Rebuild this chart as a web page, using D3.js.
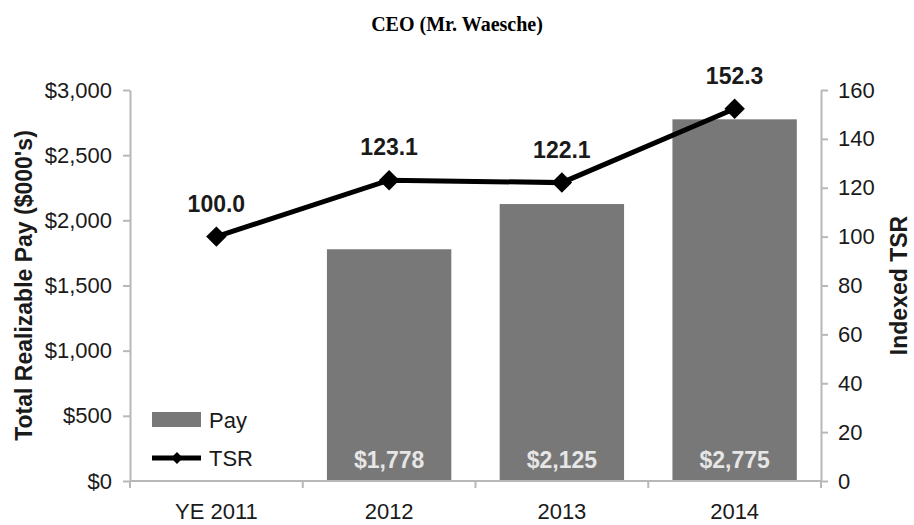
<!DOCTYPE html>
<html>
<head>
<meta charset="utf-8">
<script src="https://cdn.jsdelivr.net/npm/d3@7"></script>
<style>
  body { margin: 0; background: #fff; }
  svg { display: block; font-family: "Liberation Sans", Arial, Helvetica, sans-serif; }
  .axis path, .axis line { stroke: #b8b8b8; stroke-width: 2; }
  .axis text { font-size: 22px; fill: #1a1a1a; }
  .title { font-family: "Liberation Serif", "Times New Roman", serif; font-weight: bold; font-size: 20px; }
  .axisTitle { font-weight: bold; font-size: 23px; fill: #1a1a1a; }
  .dataLabel { font-weight: bold; font-size: 23px; fill: #1a1a1a; }
  .barLabel { font-weight: bold; font-size: 23px; fill: #e6e6e6; }
  .legend { font-size: 22px; fill: #1a1a1a; }
</style>
</head>
<body>
<div id="chart"></div>
<script>
//Chart data
const categories = ["YE 2011", "2012", "2013", "2014"];
const payValues = [null, 1778, 2125, 2775];   //no pay bar for YE 2011
const tsrValues = [100.0, 123.1, 122.1, 152.3];
const payTicks = [0, 500, 1000, 1500, 2000, 2500, 3000];
const tsrTicks = [0, 20, 40, 60, 80, 100, 120, 140, 160];

const width = 914;
const height = 525;
const plotLeft = 130, plotRight = 821, plotTop = 90, plotBottom = 481;
const barColor = "#787878";

const svg = d3.select("#chart")
    .append("svg")
    .attr("width", width)
    .attr("height", height);

//Scales
const xScale = d3.scaleBand()
    .domain(categories)
    .range([plotLeft, plotRight])
    .padding(0);

const yPay = d3.scaleLinear()
    .domain([0, 3000])
    .range([plotBottom, plotTop]);

const yTsr = d3.scaleLinear()
    .domain([0, 160])
    .range([plotBottom, plotTop]);

const barWidth = xScale.bandwidth() * 0.72;
const center = c => xScale(c) + xScale.bandwidth() / 2;

//Title
svg.append("text")
    .attr("class", "title")
    .attr("x", width / 2)
    .attr("y", 31)
    .attr("text-anchor", "middle")
    .text("CEO (Mr. Waesche)");

//Bars
const barData = categories.map((c, i) => ({cat: c, value: payValues[i]})).filter(d => d.value != null);

svg.append("g")
    .selectAll("rect")
    .data(barData)
    .enter()
    .append("rect")
    .attr("x", d => center(d.cat) - barWidth / 2)
    .attr("y", d => yPay(d.value))
    .attr("width", barWidth)
    .attr("height", d => yPay(0) - yPay(d.value))
    .attr("fill", barColor);

//Bar value labels inside the bars
svg.append("g")
    .selectAll("text")
    .data(barData)
    .enter()
    .append("text")
    .attr("class", "barLabel")
    .attr("x", d => center(d.cat))
    .attr("y", plotBottom - 13)
    .attr("text-anchor", "middle")
    .text(d => "$" + d3.format(",")(d.value));

//Left axis
svg.append("g")
    .attr("class", "axis")
    .attr("transform", "translate(" + plotLeft + ",0)")
    .call(d3.axisLeft(yPay)
        .tickValues(payTicks)
        .tickSize(7)
        .tickSizeOuter(0)
        .tickPadding(11)
        .tickFormat(d => "$" + d3.format(",")(d)));

//Right axis
svg.append("g")
    .attr("class", "axis")
    .attr("transform", "translate(" + plotRight + ",0)")
    .call(d3.axisRight(yTsr)
        .tickValues(tsrTicks)
        .tickSize(7)
        .tickSizeOuter(0)
        .tickPadding(10));

//Bottom axis: labels at band centres, ticks at band edges
const xAxis = svg.append("g")
    .attr("class", "axis")
    .attr("transform", "translate(0," + plotBottom + ")")
    .call(d3.axisBottom(xScale).tickSize(0).tickPadding(22));
xAxis.select(".domain").remove();
xAxis.selectAll("text").attr("dy", "0.71em");

xAxis.append("line")
    .attr("x1", plotLeft)
    .attr("x2", plotRight)
    .attr("y1", 0)
    .attr("y2", 0);

xAxis.selectAll(".edge")
    .data(categories.concat(["end"]))
    .enter()
    .append("line")
    .attr("class", "edge")
    .attr("x1", (d, i) => plotLeft + i * xScale.bandwidth())
    .attr("x2", (d, i) => plotLeft + i * xScale.bandwidth())
    .attr("y1", 0)
    .attr("y2", 7);

//TSR line with diamond markers
const tsrData = categories.map((c, i) => ({cat: c, value: tsrValues[i]}));

const line = d3.line()
    .x(d => center(d.cat))
    .y(d => yTsr(d.value));

svg.append("path")
    .datum(tsrData)
    .attr("d", line)
    .attr("fill", "none")
    .attr("stroke", "#000")
    .attr("stroke-width", 5);

svg.append("g")
    .selectAll("path")
    .data(tsrData)
    .enter()
    .append("path")
    .attr("d", d3.symbol().type(d3.symbolSquare).size(210))
    .attr("transform", d => "translate(" + center(d.cat) + "," + yTsr(d.value) + ") rotate(45)")
    .attr("fill", "#000");

//TSR labels
svg.append("g")
    .selectAll("text")
    .data(tsrData)
    .enter()
    .append("text")
    .attr("class", "dataLabel")
    .attr("x", d => center(d.cat))
    .attr("y", d => yTsr(d.value) - 25)
    .attr("text-anchor", "middle")
    .text(d => d.value.toFixed(1));

//Axis titles
svg.append("text")
    .attr("class", "axisTitle")
    .attr("transform", "translate(32," + ((plotTop + plotBottom) / 2) + ") rotate(-90)")
    .attr("text-anchor", "middle")
    .text("Total Realizable Pay ($000's)");

svg.append("text")
    .attr("class", "axisTitle")
    .attr("transform", "translate(907," + ((plotTop + plotBottom) / 2) + ") rotate(-90)")
    .attr("text-anchor", "middle")
    .text("Indexed TSR");

//Legend
svg.append("rect")
    .attr("x", 152)
    .attr("y", 412)
    .attr("width", 49)
    .attr("height", 15)
    .attr("fill", barColor);

svg.append("text")
    .attr("class", "legend")
    .attr("x", 209)
    .attr("y", 428)
    .text("Pay");

svg.append("line")
    .attr("x1", 152)
    .attr("x2", 201)
    .attr("y1", 458)
    .attr("y2", 458)
    .attr("stroke", "#000")
    .attr("stroke-width", 5);

svg.append("path")
    .attr("d", d3.symbol().type(d3.symbolSquare).size(70))
    .attr("transform", "translate(177,458) rotate(45)")
    .attr("fill", "#000");

svg.append("text")
    .attr("class", "legend")
    .attr("x", 209)
    .attr("y", 466)
    .text("TSR");
</script>
</body>
</html>
